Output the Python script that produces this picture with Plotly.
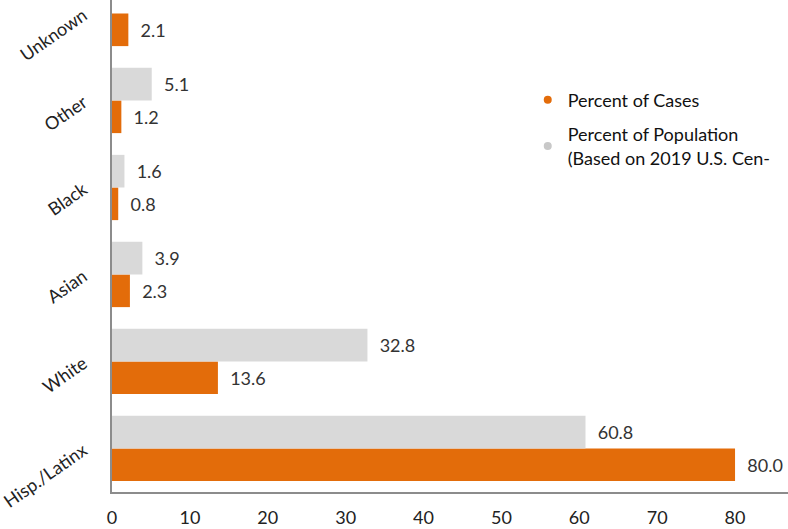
import plotly.graph_objects as go

categories = ["Hisp./Latinx", "White", "Asian", "Black", "Other", "Unknown"]
cases = [80.0, 13.6, 2.3, 0.8, 1.2, 2.1]
population = [60.8, 32.8, 3.9, 1.6, 5.1, 0]
series_names = ["Percent of Cases", "Percent of Population<br>(Based on 2019 U.S. Cen-"]
x_ticks = [0, 10, 20, 30, 40, 50, 60, 70, 80]

ORANGE = "#E36C0A"
GRAY = "#D9D9D9"
FONT = "Lato, Noto Sans, sans-serif"
PAD = "\u00a0\u00a0"

def fmt(v):
    return PAD + (f"{v:.1f}" if v else "0")

fig = go.Figure()
fig.add_trace(go.Bar(
    y=categories, x=cases, orientation="h", name=series_names[0],
    marker=dict(color=ORANGE, line=dict(width=0)),
    text=[fmt(v) for v in cases], textposition="outside", cliponaxis=False,
    constraintext="none", textfont=dict(size=18, color="#333333", family=FONT),
    showlegend=False,
))
fig.add_trace(go.Bar(
    y=categories, x=population, orientation="h", name=series_names[1],
    marker=dict(color=GRAY, line=dict(width=0)),
    text=[fmt(v) for v in population], textposition="outside", cliponaxis=False,
    constraintext="none", textfont=dict(size=18, color="#333333", family=FONT),
    showlegend=False,
))
# legend markers as dots
fig.add_trace(go.Scatter(x=[None], y=[None], mode="markers", name=series_names[0],
                         legendgroup="a",
                         marker=dict(color=ORANGE, size=8, symbol="circle")))
fig.add_trace(go.Scatter(x=[None], y=[None], mode="markers", name=series_names[1],
                         legendgroup="b",
                         marker=dict(color="#C8C8C8", size=8, symbol="circle")))

fig.update_layout(
    width=788, height=529,
    margin=dict(l=112, r=0, t=0, b=37, autoexpand=False),
    barmode="group", bargap=0.25, bargroupgap=0,
    plot_bgcolor="white", paper_bgcolor="white",
    font=dict(family=FONT, size=18, color="#222222"),
    legend=dict(x=0.615, y=0.834, xanchor="left", yanchor="top",
                font=dict(size=18, color="#111111", family=FONT),
                bgcolor="rgba(0,0,0,0)", itemwidth=30, tracegroupgap=8),
    xaxis=dict(range=[0, 86.8], tickvals=x_ticks, showgrid=False, zeroline=False,
               showline=True, linecolor="#8C8C8C", linewidth=2, ticks="",
               automargin=False, tickfont=dict(size=18, color="#222222"),
               ticklabelstandoff=8),
    yaxis=dict(range=[-0.5, 5.155], showgrid=False, zeroline=False,
               showline=True, linecolor="#8C8C8C", linewidth=2, ticks="",
               automargin=False, tickangle=-35,
               tickfont=dict(size=18, color="#222222"),
               ticklabelstandoff=23),
)

fig.write_html("out.html",
               config={"displayModeBar": False},
               post_script="document.body.style.margin='0';document.body.style.overflow='hidden';")
